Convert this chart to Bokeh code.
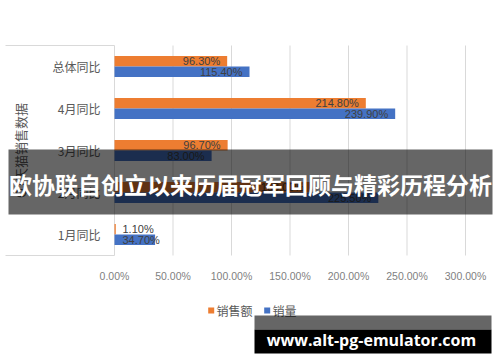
import math
from bokeh.plotting import figure
from bokeh.models import Range1d, ColumnDataSource
from bokeh.core.properties import value
from bokeh.embed import file_html
from bokeh.resources import INLINE

# ---------------- data ----------------
categories = ["总体同比", "4月同比", "3月同比", "2月同比", "1月同比"]
sales = [96.3, 214.8, 96.7, 168.0, 1.1]        # 销售额 (%)
volume = [115.4, 239.9, 83.0, 225.5, 34.7]     # 销量 (%)
series_names = ["销售额", "销量"]
x_ticks = [0, 50, 100, 150, 200, 250, 300]
x_tick_labels = ["0.00%", "50.00%", "100.00%", "150.00%", "200.00%", "250.00%", "300.00%"]
axis_title = "Q1天猫销售数据"
banner_text = "欧协联自创立以来历届冠军回顾与精彩历程分析"
watermark_text = "www.alt-pg-emulator.com"

# ---------------- layout ----------------
W, H = 500, 362
X0 = 114.0            # px of value 0
XPX = 351.0 / 300.0   # px per percent
YB = 255.0            # px of bottom of category area
BAND = 42.0           # px per category


def dx(px):
    return (px - X0) / XPX


def dy(py):
    return (YB - py) / BAND


ORANGE = "#ED7D31"
BLUE = "#4472C4"
GRID = "#d9d9d9"
TXT = "#595959"
CJK = value("Noto Sans CJK SC")
NUM = value("Liberation Sans")

p = figure(width=W, height=H, output_backend="svg", toolbar_location=None,
           x_range=Range1d(dx(0), dx(W)), y_range=Range1d(dy(H), dy(0)),
           x_axis_location=None, y_axis_location=None, min_border=0,
           background_fill_color="white", border_fill_color="white")
p.outline_line_color = None
p.xgrid.visible = False
p.ygrid.visible = False

n = len(categories)
ycat = [n - i - 0.5 for i in range(n)]
bh = 0.25
y_s = [y + 0.125 for y in ycat]
y_v = [y - 0.125 for y in ycat]

# gridlines + left box lines
p.segment(x0=x_ticks, x1=x_ticks, y0=[0] * len(x_ticks), y1=[n] * len(x_ticks),
          line_color=GRID, line_width=1)
p.segment(x0=[dx(5), dx(5)], x1=[0, 0], y0=[0, n], y1=[0, n], line_color=GRID, line_width=1)

# bars
p.hbar(y=y_s, left=0, right=sales, height=bh, fill_color=ORANGE, line_color=None)
p.hbar(y=y_v, left=0, right=volume, height=bh, fill_color=BLUE, line_color=None)

# data labels
def label_sources(vals, ys):
    inside = dict(x=[], y=[], t=[])
    outside = dict(x=[], y=[], t=[])
    for v, y in zip(vals, ys):
        t = "%.2f%%" % v
        if v * XPX > 50:
            inside["x"].append(v); inside["y"].append(y); inside["t"].append(t)
        else:
            outside["x"].append(0); outside["y"].append(y); outside["t"].append(t)
    return ColumnDataSource(inside), ColumnDataSource(outside)

for vals, ys in ((sales, y_s), (volume, y_v)):
    ins, outs = label_sources(vals, ys)
    p.text(x="x", y="y", text="t", source=ins, x_offset=-7, text_align="right",
           text_baseline="middle", text_font=NUM, text_font_size="11px", text_color="#404040")
    p.text(x="x", y="y", text="t", source=outs, x_offset=8, text_align="left",
           text_baseline="middle", text_font=NUM, text_font_size="11px", text_color="#404040")

# x tick labels
p.text(x=x_ticks, y=[0] * len(x_ticks), text=x_tick_labels, y_offset=20,
       text_align="center", text_baseline="middle", text_font=NUM,
       text_font_size="10.5px", text_color="#7f7f7f")

# category labels
p.text(x=[0] * n, y=ycat, text=categories, x_offset=-14, text_align="right",
       text_baseline="middle", text_font=CJK, text_font_size="12px", text_color=TXT)

# axis title
p.text(x=[dx(20)], y=[n / 2], text=[axis_title], angle=math.pi / 2,
       text_align="center", text_baseline="middle", text_font=CJK,
       text_font_size="13px", text_color=TXT)

# legend
p.scatter(x=[dx(210.7), dx(266.7)], y=[dy(310)] * 2, marker="square", size=6,
          fill_color=[ORANGE, BLUE], line_color=None)
p.text(x=[dx(216)], y=[dy(310)], text=[series_names[0]], text_align="left",
       text_baseline="middle", text_font=CJK, text_font_size="12px", text_color=TXT)
p.text(x=[dx(272)], y=[dy(310)], text=[series_names[1]], text_align="left",
       text_baseline="middle", text_font=CJK, text_font_size="12px", text_color=TXT)

# banner overlay
p.quad(left=[dx(8)], right=[dx(492)], top=[dy(149)], bottom=[dy(214)],
       fill_color="black", fill_alpha=0.6, line_color=None)
p.text(x=[dx(250)], y=[dy(183)], text=[banner_text], text_align="center",
       text_baseline="middle", text_font=CJK, text_font_style="bold",
       text_font_size="23px", text_color="white")

# watermark box
p.quad(left=[dx(254)], right=[dx(491)], top=[dy(315)], bottom=[dy(329)],
       fill_color="black", fill_alpha=0.6, line_color=None)
p.quad(left=[dx(254)], right=[dx(491)], top=[dy(329)], bottom=[dy(353)],
       fill_color="black", line_color=None)
p.text(x=[dx(371)], y=[dy(339)], text=[watermark_text], text_align="center",
       text_baseline="middle", text_font=value("Open Sans"), text_font_style="bold",
       text_font_size="16px", text_color="white")

open("out.html", "w").write(file_html(p, INLINE))
